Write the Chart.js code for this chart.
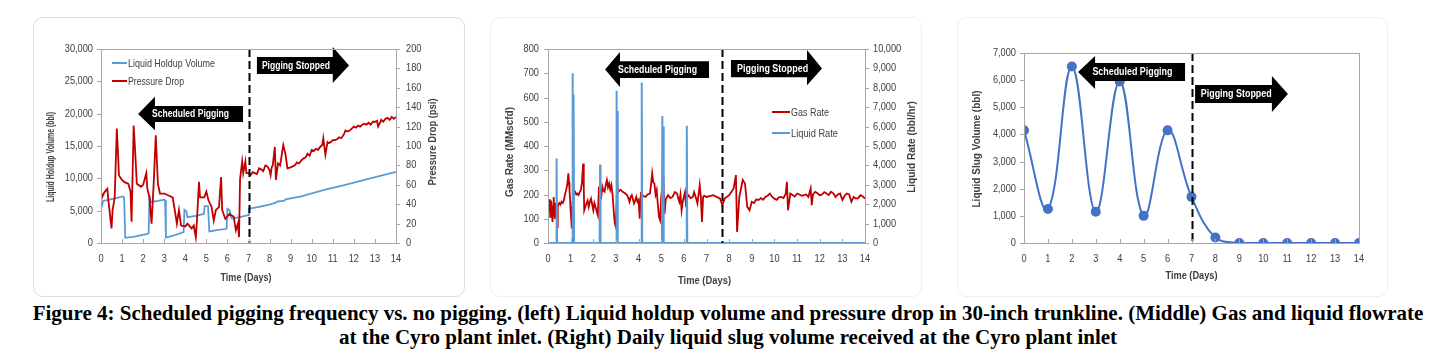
<!DOCTYPE html>
<html>
<head>
<meta charset="utf-8">
<script src="https://cdn.jsdelivr.net/npm/chart.js@4.4.1/dist/chart.umd.min.js"></script>
<style>
  body { margin: 0; background: #fff; width: 1456px; height: 363px; position: relative; overflow: hidden; }
  .frame { position: absolute; top: 17px; height: 280px; border-radius: 10px; box-sizing: border-box; }
  .box { position: absolute; top: 17px; height: 280px; }
  #caption { position: absolute; left: 0; width: 1456px; top: 301px; text-align: center;
             font: bold 21px/24px "Liberation Serif", "Times New Roman", serif; color: #000; }
</style>
</head>
<body>
<div class="frame" style="left:33px;width:432px;border:1px solid #dcdcdc"></div>
<div class="frame" style="left:490px;width:432px;border:1px solid #efefef"></div>
<div class="frame" style="left:957px;width:431px;border:1px solid #efefef"></div>
<div class="box" style="left:33px"><canvas id="left" width="432" height="280"></canvas></div>
<div class="box" style="left:490px"><canvas id="middle" width="432" height="280"></canvas></div>
<div class="box" style="left:957px"><canvas id="right" width="431" height="280"></canvas></div>
<div id="caption">Figure 4: Scheduled pigging frequency vs. no pigging. (left) Liquid holdup volume and pressure drop in 30-inch trunkline. (Middle) Gas and liquid flowrate<br>at the Cyro plant inlet. (Right) Daily liquid slug volume received at the Cyro plant inlet</div>

<script>
// ---- data, [day, value] ----
// left: liquid holdup volume (bbl)
const holdupVolume = [[0,5100],[0.1,6500],[0.5,6800],[1.05,7200],[1.1,7000],[1.15,800],[1.6,1000],[2.2,1400],[2.26,1500],[2.3,7400],[2.36,6300],[2.7,6500],[3.0,6700],[3.04,6600],[3.08,850],[3.5,1200],[3.92,1700],[3.96,5100],[4.05,4900],[4.1,4000],[4.5,4200],[4.88,4500],[4.92,5700],[5.08,5700],[5.14,1800],[5.5,2000],[5.96,2200],[6.0,5300],[6.1,5100],[6.17,4000],[6.22,3800],[6.6,4000],[6.98,4300],[7.02,5300],[7.5,5600],[8.0,5950],[8.3,6250],[8.36,6400],[8.7,6550],[8.76,6750],[9.5,7200],[10.6,8200],[11.5,8900],[12.5,9750],[13.3,10400],[14,11000]];

// left: pressure drop (psi)
const pressureDrop = [[0,53],[0.05,47],[0.15,52],[0.3,56],[0.35,44],[0.5,15],[0.55,34],[0.65,47],[0.75,118],[0.8,96],[0.85,70],[0.9,68],[1.0,65],[1.1,63],[1.3,61],[1.4,53],[1.45,22],[1.55,121],[1.6,103],[1.7,61],[1.9,58],[2.0,60],[2.15,72],[2.2,56],[2.3,47],[2.4,20],[2.5,61],[2.6,111],[2.7,61],[2.8,51],[3.0,51],[3.2,49],[3.4,47],[3.5,34],[3.6,20],[3.7,34],[3.8,18],[4.0,17],[4.1,20],[4.3,15],[4.4,18],[4.5,6],[4.55,22],[4.65,63],[4.7,47],[4.9,47],[5.0,53],[5.1,44],[5.25,37],[5.35,23],[5.45,34],[5.6,37],[5.7,68],[5.75,34],[5.9,25],[6.1,30],[6.3,27],[6.4,13],[6.5,20],[6.55,6],[6.6,66],[6.7,84],[6.75,72],[6.85,84],[6.9,72],[7.0,72],[7.1,70],[7.2,73],[7.3,72],[7.4,71],[7.5,77],[7.6,76],[7.7,74],[7.8,80],[7.9,79],[8.0,75],[8.05,70],[8.1,78],[8.15,80],[8.25,99],[8.3,65],[8.4,82],[8.5,80],[8.65,101],[8.75,92],[8.85,77],[9.0,78],[9.2,80],[9.3,83],[9.4,82],[9.5,85],[9.6,87],[9.7,88],[9.8,92],[9.9,90],[10.0,96],[10.1,95],[10.2,97],[10.3,96],[10.4,99],[10.5,101],[10.55,108],[10.65,91],[10.75,104],[10.8,103],[10.9,104],[11.0,106],[11.1,106],[11.2,107],[11.3,109],[11.4,108],[11.5,111],[11.55,113],[11.6,116],[11.7,115],[11.8,116],[11.9,118],[12.0,120],[12.1,119],[12.2,121],[12.3,120],[12.4,122],[12.5,123],[12.6,122],[12.7,124],[12.8,122],[12.9,125],[13.0,125],[13.1,126],[13.15,120],[13.2,122],[13.3,127],[13.4,125],[13.5,128],[13.6,129],[13.7,127],[13.8,130],[13.9,128],[14.0,130]];

// middle: gas rate (MMscfd)
const gasRate = [[0,190],[0.05,135],[0.08,180],[0.1,108],[0.13,175],[0.15,163],[0.18,120],[0.2,87],[0.23,150],[0.25,190],[0.28,130],[0.3,100],[0.33,165],[0.35,149],[0.38,120],[0.4,66],[0.43,150],[0.45,156],[0.5,165],[0.55,158],[0.6,170],[0.65,165],[0.7,175],[0.75,200],[0.8,218],[0.85,240],[0.9,287],[0.93,250],[0.95,218],[0.98,170],[1.0,135],[1.03,90],[1.05,60],[1.08,150],[1.1,273],[1.13,230],[1.15,204],[1.2,210],[1.25,200],[1.3,204],[1.35,198],[1.4,210],[1.45,218],[1.5,250],[1.55,328],[1.58,230],[1.6,135],[1.65,150],[1.7,163],[1.75,175],[1.8,149],[1.85,170],[1.9,183],[1.95,160],[2.0,135],[2.05,165],[2.1,149],[2.15,130],[2.2,114],[2.25,232],[2.3,200],[2.35,190],[2.4,232],[2.45,215],[2.5,211],[2.55,240],[2.6,260],[2.65,230],[2.7,245],[2.75,220],[2.8,239],[2.85,200],[2.9,135],[2.95,80],[3.0,66],[3.05,245],[3.1,211],[3.2,220],[3.3,211],[3.4,205],[3.5,197],[3.55,185],[3.6,170],[3.65,190],[3.7,197],[3.75,180],[3.8,163],[3.85,175],[3.9,190],[3.95,170],[4.0,177],[4.05,100],[4.1,204],[4.2,195],[4.3,190],[4.4,200],[4.5,204],[4.55,240],[4.6,287],[4.65,250],[4.7,245],[4.75,200],[4.8,218],[4.85,160],[4.9,108],[4.95,94],[5.0,190],[5.05,230],[5.1,252],[5.15,121],[5.2,180],[5.3,197],[5.4,185],[5.5,190],[5.6,210],[5.7,204],[5.75,185],[5.8,170],[5.85,200],[5.9,135],[5.95,170],[6.0,190],[6.05,210],[6.1,149],[6.15,190],[6.2,197],[6.3,185],[6.4,190],[6.45,210],[6.5,197],[6.55,180],[6.6,163],[6.65,200],[6.7,239],[6.75,190],[6.8,87],[6.85,190],[6.9,195],[7.0,190],[7.3,197],[7.6,183],[7.7,156],[7.8,183],[8.0,197],[8.2,225],[8.3,280],[8.35,46],[8.45,190],[8.6,260],[8.7,245],[8.8,149],[8.9,135],[9.0,170],[9.1,165],[9.2,180],[9.3,177],[9.4,185],[9.5,178],[9.6,190],[9.7,195],[9.8,204],[9.9,190],[10.0,183],[10.1,178],[10.2,188],[10.3,190],[10.4,185],[10.5,204],[10.55,252],[10.6,135],[10.7,204],[10.8,198],[10.9,192],[11.0,204],[11.1,200],[11.2,195],[11.3,197],[11.4,200],[11.5,190],[11.6,225],[11.65,156],[11.7,200],[11.8,211],[11.9,205],[12.0,197],[12.1,200],[12.2,210],[12.3,204],[12.4,198],[12.5,211],[12.6,205],[12.7,190],[12.8,200],[12.9,204],[13.0,177],[13.1,195],[13.2,204],[13.3,200],[13.4,170],[13.5,190],[13.6,183],[13.7,185],[13.8,197],[13.9,192],[14.0,183]];

// middle: liquid rate (bbl/hr), spikes at each pig arrival
const liquidRate = [[0,0],[0.36,0],[0.38,4350],[0.40,0],[1.07,0],[1.09,8750],[1.11,0],[1.13,7650],[1.15,0],[2.28,0],[2.30,4050],[2.32,0],[3.01,0],[3.03,7850],[3.05,0],[3.07,6800],[3.09,0],[4.12,0],[4.14,8270],[4.16,0],[5.03,0],[5.05,6550],[5.08,0],[5.10,6000],[5.12,0],[6.11,0],[6.13,6050],[6.15,0],[14,0]];

// right: daily liquid slug volume (bbl)
const slugDays = [0, 1, 2, 3, 4, 5, 6, 7, 8, 9, 10, 11, 12, 13, 14];
const slugVolume = [4150, 1250, 6500, 1150, 5950, 1000, 4150, 1700, 200, 0, 0, 0, 0, 0, 0];

const RED = '#C00000', BLUE = '#5B9BD5', DOT = '#4472C4';
const FONT = '"Liberation Sans", Arial, sans-serif';
const NARROW = 0.84;   // the source uses a narrow face, squeeze canvas text to match
Chart.defaults.font.family = FONT;
Chart.defaults.font.size = 11;
Chart.defaults.color = '#404040';

const pairs = arr => arr.map(p => ({ x: p[0], y: p[1] }));
const comma = v => Number(v).toLocaleString('en-US');

const condense = {
  id: 'condense',
  beforeInit(chart) {
    const ctx = chart.ctx, fill = ctx.fillText.bind(ctx);
    ctx.fillText = (t, x, y, mw) => fill(t, x, y, mw !== undefined ? mw : ctx.measureText(t).width * NARROW);
  }
};

function xAxis() {
  return {
    type: 'linear', min: 0, max: 14,
    ticks: { stepSize: 1, padding: 9, autoSkip: false, maxRotation: 0 },
    grid: { display: false, drawTicks: false }, border: { display: false },
    afterFit: s => { s.height = 54; }
  };
}
function yAxis(pos, max, step, width, pad) {
  return {
    type: 'linear', position: pos, min: 0, max: max,
    ticks: { stepSize: step, padding: pad, callback: comma },
    grid: { display: false, drawTicks: false }, border: { display: false },
    afterFit: s => { s.width = width; }
  };
}

function label(ctx, text, x, y, w, rot, font, color) {
  ctx.save();
  ctx.translate(x, y);
  if (rot) ctx.rotate(rot);
  ctx.fillStyle = color; ctx.font = font; ctx.textAlign = 'center'; ctx.textBaseline = 'middle';
  ctx.fillText(text, 0, 0, w);
  ctx.restore();
}

// frame, tick marks, dashed divider, arrows, legend, axis titles
const decor = {
  id: 'decor',
  afterDatasetsDraw(chart, args, o) {
    const ctx = chart.ctx, a = chart.chartArea, xs = chart.scales.x, ys = chart.scales.y;
    ctx.save();
    const dx = Math.round(xs.getPixelForValue(o.divider)) + 0.5;
    ctx.strokeStyle = '#000'; ctx.lineWidth = 2; ctx.setLineDash([8, 4]);
    ctx.beginPath(); ctx.moveTo(dx, a.top); ctx.lineTo(dx, a.bottom); ctx.stroke();
    ctx.setLineDash([]);
    o.arrows.forEach(ar => {
      const tail = xs.getPixelForValue(ar.tail), base = xs.getPixelForValue(ar.base), tip = xs.getPixelForValue(ar.tip);
      const b1 = ys.getPixelForValue(ar.body[0]), b2 = ys.getPixelForValue(ar.body[1]);
      const h1 = ys.getPixelForValue(ar.head[0]), h2 = ys.getPixelForValue(ar.head[1]);
      const mid = (b1 + b2) / 2;
      ctx.fillStyle = '#000';
      ctx.beginPath();
      ctx.moveTo(tail, b1); ctx.lineTo(base, b1); ctx.lineTo(base, h1); ctx.lineTo(tip, mid);
      ctx.lineTo(base, h2); ctx.lineTo(base, b2); ctx.lineTo(tail, b2); ctx.closePath(); ctx.fill();
      label(ctx, ar.text, xs.getPixelForValue(ar.textX), mid + 0.5, ar.w, 0, 'bold 10.5px ' + FONT, '#fff');
    });
    ctx.restore();
  },
  afterDraw(chart, args, o) {
    const ctx = chart.ctx, a = chart.chartArea;
    ctx.save();
    ctx.strokeStyle = '#a6a6a6'; ctx.lineWidth = 1;
    ctx.strokeRect(Math.round(a.left) + 0.5, Math.round(a.top) + 0.5, Math.round(a.right - a.left), Math.round(a.bottom - a.top));
    ctx.beginPath();
    Object.values(chart.scales).forEach(s => {
      s.ticks.forEach(t => {
        const p = Math.round(s.getPixelForValue(t.value)) + 0.5;
        if (s.axis === 'x') { ctx.moveTo(p, a.bottom); ctx.lineTo(p, a.bottom - 4); }
        else if (s.position === 'left') { ctx.moveTo(a.left, p); ctx.lineTo(a.left - 4, p); }
        else { ctx.moveTo(a.right, p); ctx.lineTo(a.right + 4, p); }
      });
    });
    ctx.stroke();
    (o.legend || []).forEach(it => {
      const y = a.top + it.dy;
      ctx.strokeStyle = it.color; ctx.lineWidth = 2;
      ctx.beginPath(); ctx.moveTo(a.left + it.dx, y); ctx.lineTo(a.left + it.dx + it.len, y); ctx.stroke();
      ctx.fillStyle = '#404040'; ctx.font = '11px ' + FONT; ctx.textAlign = 'left'; ctx.textBaseline = 'middle';
      ctx.fillText(it.text, a.left + it.dx + it.len + 1, y + 0.5, it.w);
    });
    o.titles.forEach(t => {
      label(ctx, t.text, t.x, t.y, t.w, t.rot ? -Math.PI / 2 : 0, 'bold 10px ' + FONT, '#404040');
    });
    ctx.restore();
  }
};

const base = {
  responsive: false, animation: false, devicePixelRatio: 1,
  elements: { point: { radius: 0 }, line: { tension: 0, borderWidth: 1.8 } }
};
const plug = d => ({ legend: { display: false }, tooltip: { enabled: false }, decor: d });

new Chart(document.getElementById('left'), {
  type: 'line',
  data: { datasets: [
    { data: pairs(pressureDrop), borderColor: RED, yAxisID: 'y2' },
    { data: pairs(holdupVolume), borderColor: BLUE, yAxisID: 'y' }
  ] },
  options: Object.assign({}, base, {
    layout: { padding: { top: 32, left: 0, right: 0, bottom: 0 } },
    scales: { x: xAxis(), y: yAxis('left', 30000, 5000, 68, 8), y2: yAxis('right', 200, 20, 69, 10) },
    plugins: plug({
      divider: 7,
      arrows: [
        { text: 'Scheduled Pigging', w: 77, tail: 6.74, base: 2.56, tip: 1.76, body: [21200, 18700], head: [22600, 17450], textX: 4.25 },
        { text: 'Pigging Stopped', w: 68, tail: 7.40, base: 11.0, tip: 11.77, body: [28750, 26150], head: [30300, 24750], textX: 9.25 }
      ],
      legend: [
        { text: 'Liquid Holdup Volume', w: 87, color: BLUE, dx: 11, dy: 14, len: 15 },
        { text: 'Pressure Drop', w: 56, color: RED, dx: 11, dy: 32, len: 15 }
      ],
      titles: [
        { text: 'Liquid Holdup Volume (bbl)', w: 90, x: 18, y: 140, rot: true },
        { text: 'Pressure Drop (psi)', w: 87, x: 400, y: 125, rot: true },
        { text: 'Time (Days)', w: 51, x: 213, y: 261 }
      ]
    })
  }),
  plugins: [condense, decor]
});

new Chart(document.getElementById('middle'), {
  type: 'line',
  data: { datasets: [
    { data: pairs(liquidRate), borderColor: BLUE, yAxisID: 'y2', borderWidth: 2 },
    { data: pairs(gasRate), borderColor: RED, yAxisID: 'y' }
  ] },
  options: Object.assign({}, base, {
    layout: { padding: { top: 32, left: 0, right: 0, bottom: 0 } },
    scales: { x: xAxis(), y: yAxis('left', 800, 100, 58, 9), y2: yAxis('right', 10000, 1000, 57, 8) },
    plugins: plug({
      divider: 7.7,
      arrows: [
        { text: 'Scheduled Pigging', w: 79, tail: 7.11, base: 3.18, tip: 2.52, body: [750, 680], head: [788, 643], textX: 4.84 },
        { text: 'Pigging Stopped', w: 71, tail: 8.08, base: 11.44, tip: 12.1, body: [755, 684], head: [796, 651], textX: 9.92 }
      ],
      legend: [
        { text: 'Gas Rate', w: 38, color: RED, dx: 224, dy: 63, len: 18 },
        { text: 'Liquid Rate', w: 47, color: BLUE, dx: 224, dy: 84, len: 18 }
      ],
      titles: [
        { text: 'Gas Rate (MMscfd)', w: 93, x: 20, y: 135, rot: true },
        { text: 'Liquid Rate (bbl/hr)', w: 100, x: 422, y: 130, rot: true },
        { text: 'Time (Days)', w: 53, x: 214.5, y: 264.5 }
      ]
    })
  }),
  plugins: [condense, decor]
});

new Chart(document.getElementById('right'), {
  type: 'line',
  data: { datasets: [
    { data: slugDays.map((d, i) => ({ x: d, y: slugVolume[i] })), borderColor: DOT, backgroundColor: DOT, borderWidth: 2,
      tension: 0.4, pointRadius: 5, pointBorderWidth: 0, pointBackgroundColor: DOT, yAxisID: 'y' }
  ] },
  options: Object.assign({}, base, {
    layout: { padding: { top: 36, left: 0, right: 29, bottom: 0 } },
    scales: { x: xAxis(), y: yAxis('left', 7000, 1000, 67, 8) },
    plugins: plug({
      divider: 7,
      arrows: [
        { text: 'Scheduled Pigging', w: 80, tail: 6.73, base: 2.97, tip: 2.26, body: [6632, 5968], head: [6889, 5674], textX: 4.53 },
        { text: 'Pigging Stopped', w: 71, tail: 7.15, base: 10.36, tip: 11.03, body: [5821, 5158], head: [6153, 4826], textX: 8.87 }
      ],
      titles: [
        { text: 'Liquid Slug Volume (bbl)', w: 122, x: 20, y: 132, rot: true },
        { text: 'Time (Days)', w: 52, x: 234.5, y: 259 }
      ]
    })
  }),
  plugins: [condense, decor]
});
</script>
</body>
</html>
